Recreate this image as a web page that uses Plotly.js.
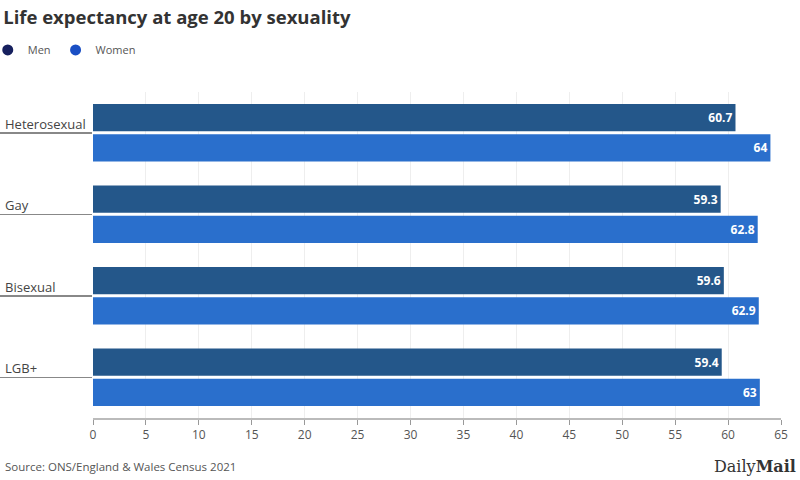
<!DOCTYPE html>
<html><head><meta charset="utf-8">
<script src="https://cdn.plot.ly/plotly-3.0.1.min.js"></script>
<style>html,body{margin:0;padding:0;background:#fff}#c{width:800px;height:480px}</style>
</head><body><div id="c"></div>
<script>
const categories = ["Heterosexual", "Gay", "Bisexual", "LGB+"];
const men = [60.7, 59.3, 59.6, 59.4];
const women = [64, 62.8, 62.9, 63];
const xTicks = [0,5,10,15,20,25,30,35,40,45,50,55,60,65];

const menColor = "#24578a", womenColor = "#2a6fcc";
const font = "'Open Sans', sans-serif";

const traces = [
  {type:"bar", orientation:"h", name:"Men", y:categories, x:men, marker:{color:menColor},
   text:men.map(String), textposition:"inside", insidetextanchor:"end",
   textfont:{color:"#fff", size:12, family:font, weight:700}, showlegend:false, hoverinfo:"none", cliponaxis:false},
  {type:"bar", orientation:"h", name:"Women", y:categories, x:women, marker:{color:womenColor},
   text:women.map(String), textposition:"inside", insidetextanchor:"end",
   textfont:{color:"#fff", size:12, family:font, weight:700}, showlegend:false, hoverinfo:"none", cliponaxis:false},
  {type:"scatter", mode:"markers", name:"Men", x:[null], y:[null], marker:{color:"#16205e", size:11, symbol:"circle"}, showlegend:true},
  {type:"scatter", mode:"markers", name:"Women", x:[null], y:[null], marker:{color:"#1a4fc4", size:11, symbol:"circle"}, showlegend:true}
];

const annotations = categories.map(c => ({
  xref:"paper", yref:"y", x:-0.131, y:c, xanchor:"left", yanchor:"bottom",
  text:c, showarrow:false, font:{family:font, size:13, color:"#444"}, yshift:-2
}));
annotations.push({xref:"paper", yref:"paper", x:-0.131, y:-0.15, xanchor:"left", yanchor:"middle",
  text:"Source: ONS/England & Wales Census 2021", showarrow:false, font:{family:font, size:11.5, color:"#555"}});
annotations.push({xref:"paper", yref:"paper", x:1.025, y:-0.15, xanchor:"right", yanchor:"middle",
  text:"<span style='font-weight:300'>Daily</span><b>Mail</b>", showarrow:false, font:{family:"'DejaVu Serif', serif", size:16, color:"#333"}});

const layout = {
  width:800, height:480,
  margin:{l:93, r:19, t:92, b:62, autoexpand:false},
  paper_bgcolor:"#fff", plot_bgcolor:"#fff",
  font:{family:font},
  title:{text:"<b>Life expectancy at age 20 by sexuality</b>", x:0.004, xanchor:"left", y:0.963, yanchor:"middle",
    font:{family:font, size:18.5, color:"#333"}, automargin:false},
  showlegend:true,
  legend:{orientation:"h", x:-0.153, xanchor:"left", y:1.129, yanchor:"middle", font:{family:font, size:11, color:"#555"},
    itemwidth:30, tracegroupgap:0, traceorder:"normal"},
  barmode:"group", bargap:0.26, bargroupgap:0.1,
  xaxis:{range:[0,65], tickvals:xTicks, ticks:"outside", ticklen:5, tickcolor:"#999", automargin:false,
    showgrid:true, gridcolor:"#eeeeee", zeroline:false, showline:true, linecolor:"#bbb", linewidth:2,
    tickfont:{family:font, size:12, color:"#555"}, fixedrange:true},
  yaxis:{categoryorder:"array", categoryarray:categories, autorange:false, range:[3.5,-0.5], automargin:false,
    showticklabels:false, ticks:"outside", ticklen:93, tickcolor:"#888", tickwidth:1.5,
    showgrid:false, zeroline:false, showline:false, fixedrange:true},
  annotations:annotations
};

Plotly.newPlot("c", traces, layout, {displayModeBar:false, staticPlot:true});
</script></body></html>
